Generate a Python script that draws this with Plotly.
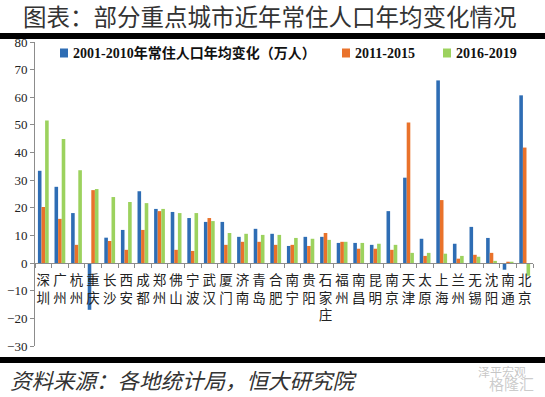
import plotly.graph_objects as go

cities = ["深圳", "广州", "杭州", "重庆", "长沙", "西安", "成都", "郑州", "佛山", "宁波",
          "武汉", "厦门", "济南", "青岛", "合肥", "南宁", "贵阳", "石家庄", "福州", "南昌",
          "昆明", "南京", "天津", "太原", "上海", "兰州", "无锡", "沈阳", "南通", "北京"]
s2001_2010 = [33.4, 27.6, 18.1, -16.9, 9.2, 12.0, 26.0, 19.6, 18.5, 16.3,
              14.9, 14.9, 9.5, 12.4, 10.6, 6.2, 9.5, 9.5, 7.3, 7.3,
              6.6, 18.8, 30.9, 8.8, 66.1, 7.0, 13.1, 9.1, -2.4, 60.7]
s2011_2015 = [20.3, 16.0, 6.6, 26.4, 8.0, 4.8, 12.0, 18.8, 4.8, 4.4,
              16.3, 6.6, 7.7, 7.7, 6.6, 6.6, 6.2, 10.9, 7.7, 5.2,
              5.2, 4.8, 50.9, 2.6, 22.8, 1.6, 3.0, 3.7, 0.5, 41.8]
s2016_2019 = [51.6, 44.9, 33.6, 26.8, 23.9, 22.1, 21.7, 19.6, 18.1, 18.1,
              15.2, 10.9, 10.6, 10.2, 10.2, 9.1, 8.8, 8.4, 7.7, 7.3,
              7.0, 6.6, 3.7, 3.7, 3.4, 2.6, 2.3, 0.8, 0.5, -4.6]
series_names = ["2001-2010年常住人口年均变化（万人）", "2011-2015", "2016-2019"]
colors = ["#2E6DB4", "#E9722B", "#9CD25E"]

tick_text = ["<br>".join(list(c)) for c in cities]

W, H = 545, 397
L, R, T, B = 35, 12, 42, 51
PW, PH = W - L - R, H - T - B


def px(x):
    return (x - L) / PW


def py(y):
    return (H - B - y) / PH


fig = go.Figure()
for name, vals, col in zip(series_names, [s2001_2010, s2011_2015, s2016_2019], colors):
    fig.add_trace(go.Bar(x=cities, y=vals, name=name, showlegend=False,
                         marker=dict(color=col, line=dict(width=0))))

serif = "Liberation Serif, Noto Sans CJK SC, serif"

shapes = [
    dict(type="rect", xref="paper", yref="paper", x0=px(-5), x1=px(W + 5),
         y0=py(39), y1=py(33), fillcolor="black", line=dict(width=0)),
    dict(type="rect", xref="paper", yref="paper", x0=px(-5), x1=px(W + 5),
         y0=py(363), y1=py(357), fillcolor="black", line=dict(width=0)),
]
annotations = [
    dict(text="图表：部分重点城市近年常住人口年均变化情况", xref="paper", yref="paper",
         x=px(21), y=py(16), xanchor="left", yanchor="middle", showarrow=False,
         font=dict(family="Noto Sans CJK SC", size=23.5, color="#333333")),
    dict(text="<i>资料来源：各地统计局，恒大研究院</i>", xref="paper", yref="paper",
         x=px(8), y=py(379), xanchor="left", yanchor="middle",
         showarrow=False, font=dict(family="Noto Sans CJK SC", size=21.5, color="#333333")),
    dict(text="泽平宏观", xref="paper", yref="paper", x=px(502), y=py(371),
         xanchor="center", yanchor="middle", showarrow=False,
         font=dict(family="Noto Sans CJK SC", size=12, color="rgba(160,160,160,0.6)")),
    dict(text="格隆汇", xref="paper", yref="paper", x=px(511), y=py(383),
         xanchor="center", yanchor="middle", showarrow=False,
         font=dict(family="Noto Sans CJK SC", size=15, color="rgba(170,170,170,0.6)")),
]

# manual legend in one row
legend_pos = [(60, 71), (342, 353), (443, 454)]
for (mx, tx), name, col in zip(legend_pos, series_names, colors):
    shapes.append(dict(type="rect", xref="paper", yref="paper", x0=px(mx), x1=px(mx + 8),
                       y0=py(57.5), y1=py(48.5), fillcolor=col, line=dict(width=0)))
    annotations.append(dict(text="<b>" + name + "</b>", xref="paper", yref="paper",
                            x=px(tx), y=py(53), xanchor="left", yanchor="middle",
                            showarrow=False,
                            font=dict(family=serif, size=14, color="#111111")))

fig.update_layout(
    width=W, height=H,
    margin=dict(l=L, r=R, t=T, b=B, autoexpand=False),
    paper_bgcolor="white", plot_bgcolor="white",
    barmode="group", bargap=0.35, bargroupgap=0,
    showlegend=False,
    xaxis=dict(type="category", anchor="free", position=30 / 110, showline=True,
               linecolor="#8c8c8c", linewidth=1, ticks="outside", tickson="boundaries",
               ticklen=4, tickcolor="#8c8c8c", tickvals=cities, ticktext=tick_text,
               tickfont=dict(family="Noto Sans CJK SC", size=13.5, color="#222222"),
               ticklabelstandoff=5,
               showgrid=False, zeroline=False, tickangle=0, automargin=False),
    yaxis=dict(range=[-30, 80], dtick=10, showline=True, linecolor="#8c8c8c", linewidth=1,
               ticks="outside", ticklen=4, tickcolor="#8c8c8c", showgrid=False, zeroline=False,
               tickfont=dict(family=serif, size=13, color="#222222"), automargin=False),
    shapes=shapes,
    annotations=annotations,
)

fig.write_html("out.html", config={"displayModeBar": False},
               post_script="document.body.style.margin='0';")
